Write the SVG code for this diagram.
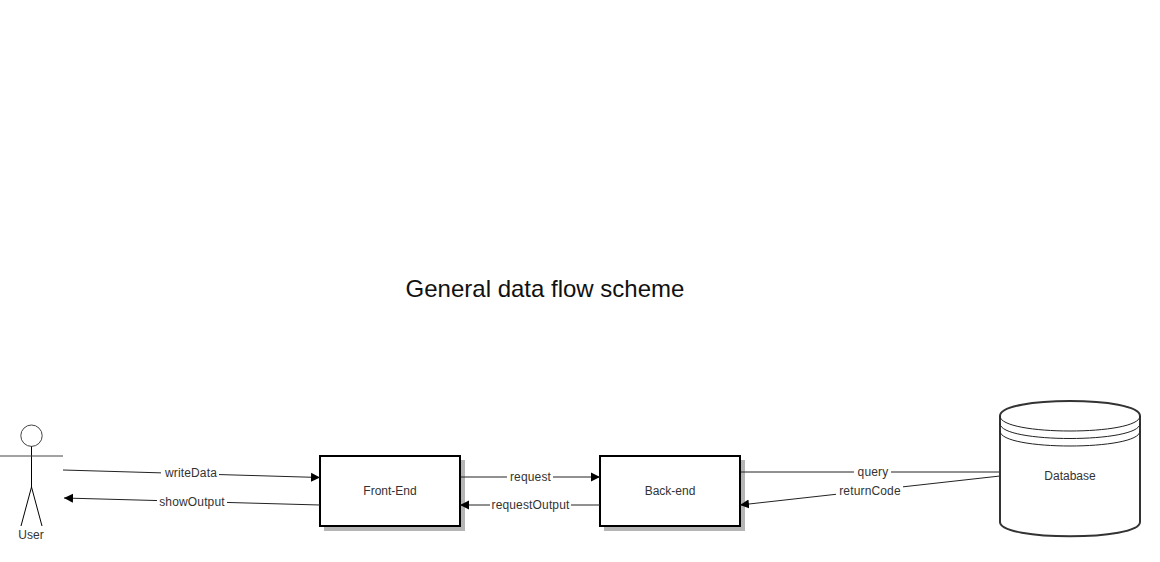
<svg xmlns="http://www.w3.org/2000/svg" width="1160" height="562" viewBox="0 0 1160 562">
<defs>
<marker id="arrow" markerUnits="userSpaceOnUse" markerWidth="10" markerHeight="10" refX="9" refY="5" orient="auto"><path d="M0,0.5 L9,5 L0,9.500 Z" fill="#000"/></marker>
</defs>
<style>
text{font-family:"Liberation Sans",Arial,sans-serif;font-size:12px;fill:#333;text-anchor:middle}
.box{fill:#fff;stroke:#000;stroke-width:2}
.shadow{fill:#b5b5b5;stroke:none}
.edge{fill:none;stroke:#222;stroke-width:1;marker-end:url(#arrow)}
.plain{fill:none;stroke:#222;stroke-width:1}
.lab{fill:#fff;stroke:none}
.edge-label{letter-spacing:.15px}
</style>
<rect width="1160" height="562" fill="#fff"/>
<text id="title" x="545" y="297" style="font-size:24px;fill:#111">General data flow scheme</text>
<g id="user">
<circle cx="31.500" cy="435.700" r="10.700" fill="#fff" stroke="#444" stroke-width="1"/>
<path class="plain" d="M31.500 446.400V487M31.500 487L21 526M31.500 487L42 526" style="stroke:#000"/>
<path class="plain" d="M0 456H63" style="stroke:#444"/>
<text x="31" y="539">User</text>
</g>
<g id="front-end">
<rect class="shadow" x="324" y="460" width="141" height="71"/>
<rect class="box" x="320" y="456" width="140" height="70"/>
<text x="390" y="495">Front-End</text>
</g>
<g id="back-end">
<rect class="shadow" x="604" y="460" width="141" height="71"/>
<rect class="box" x="600" y="456" width="140" height="70"/>
<text x="670" y="495">Back-end</text>
</g>
<g id="connectors">
<path class="edge" d="M63 470L320 477.500"/>
<path class="edge" d="M320 505L64 498"/>
<path class="edge" d="M461 477H600"/>
<path class="edge" d="M600 505H460"/>
<path class="edge" d="M741 472H1008"/>
<path class="edge" d="M1000 476L740 505"/>
<rect class="lab" x="161" y="466" width="58" height="14"/><text class="edge-label" x="191" y="477">writeData</text>
<rect class="lab" x="157" y="495" width="70" height="14"/><text class="edge-label" x="192" y="506">showOutput</text>
<rect class="lab" x="507" y="470" width="46" height="14"/><text class="edge-label" x="530.500" y="481">request</text>
<rect class="lab" x="490" y="498" width="81" height="14"/><text class="edge-label" x="530.500" y="509">requestOutput</text>
<rect class="lab" x="854" y="465" width="37" height="14"/><text class="edge-label" x="873" y="476">query</text>
<rect class="lab" x="836" y="484" width="67" height="14"/><text class="edge-label" x="870" y="495">returnCode</text>
</g>
<g id="database">
<path d="M1000 416C1000 396 1140 396 1140 416V522C1140 541 1000 541 1000 522Z" fill="#fff" stroke="#333" stroke-width="2"/>
<path class="plain" d="M1000 416C1000 436 1140 436 1140 416M1000 423.500C1000 443.500 1140 443.500 1140 423.500M1000 431C1000 451 1140 451 1140 431"/>
<text x="1070" y="480">Database</text>
</g>
</svg>
